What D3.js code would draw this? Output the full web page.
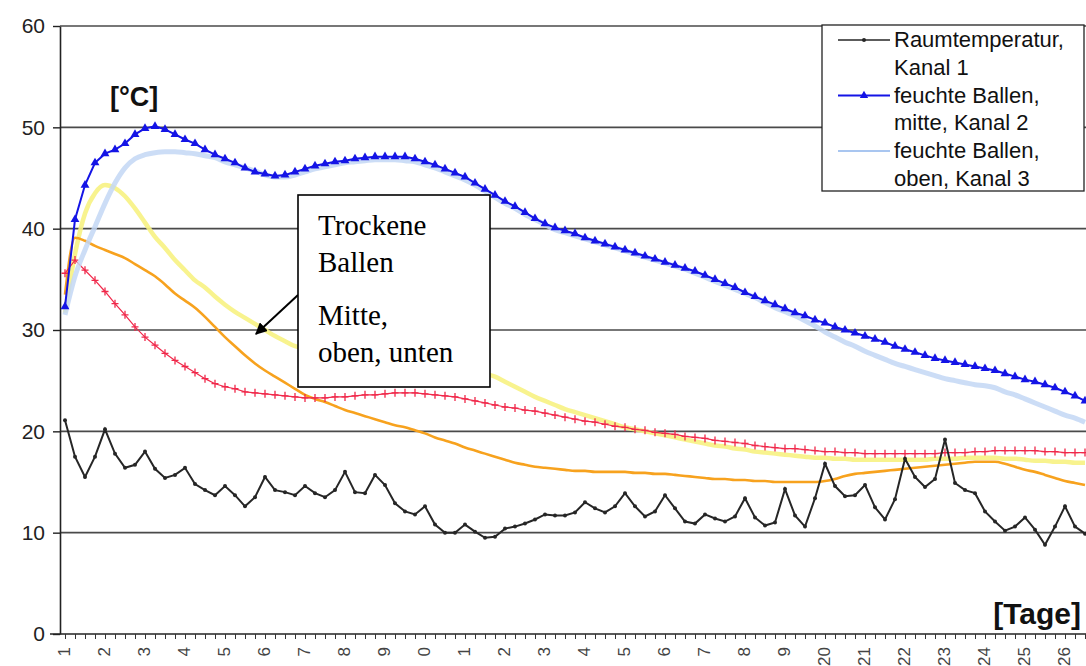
<!DOCTYPE html>
<html lang="de">
<head>
<meta charset="utf-8">
<title>Temperaturverlauf Ballen</title>
<script src="https://d3js.org/d3.v7.min.js"></script>
<style>
  body { margin: 0; background: #fff; }
  svg { display: block; }
</style>
</head>
<body>
<div id="chart"></div>
<script>
// Tick labels for days (as printed on the axis)
const dayLabels = ["1","2","3","4","5","6","7","8","9","0","1","2","3","4","5","6","7","8","9","20","21","22","23","24","25","26"];

// Raumtemperatur, Kanal 1 (4 readings per day)
const raum = [21.1,17.5,15.5,17.5,20.2,17.8,16.4,16.7,18.0,16.3,15.4,15.7,16.4,14.8,14.2,13.7,14.6,13.7,12.6,13.5,
  15.5,14.2,14.0,13.7,14.6,13.9,13.5,14.2,16.0,14.0,13.9,15.7,14.7,12.9,12.1,11.8,12.6,10.8,10.0,10.0,
  10.8,10.1,9.5,9.6,10.4,10.6,10.9,11.3,11.8,11.7,11.7,12.0,13.0,12.4,12.0,12.6,13.9,12.6,11.6,12.1,
  13.7,12.4,11.1,10.9,11.8,11.4,11.1,11.6,13.4,11.5,10.7,11.0,14.3,11.7,10.6,13.4,16.8,14.6,13.6,13.7,
  14.7,12.5,11.3,13.3,17.3,15.5,14.5,15.3,19.2,14.9,14.2,13.9,12.1,11.1,10.2,10.6,11.5,10.3,8.8,10.6,
  12.6,10.6,9.9];

// feuchte Ballen, mitte, Kanal 2
const mitte = [32.3,40.9,44.3,46.5,47.4,47.8,48.4,49.3,49.9,50.1,49.8,49.3,48.8,48.4,47.8,47.3,46.9,46.5,46.0,45.6,
  45.4,45.2,45.3,45.6,45.9,46.2,46.4,46.6,46.7,46.9,47.0,47.1,47.1,47.1,47.1,46.9,46.6,46.3,45.9,45.5,
  45.1,44.5,43.9,43.3,42.7,42.2,41.6,41.0,40.5,40.1,39.8,39.5,39.1,38.8,38.5,38.2,37.9,37.6,37.3,37.0,
  36.7,36.4,36.1,35.8,35.4,35.0,34.6,34.2,33.7,33.3,32.9,32.5,32.1,31.7,31.4,31.0,30.7,30.3,30.0,29.7,
  29.4,29.1,28.8,28.4,28.1,27.8,27.5,27.2,27.0,26.8,26.6,26.4,26.2,26.0,25.7,25.4,25.1,24.9,24.6,24.3,
  23.9,23.5,23.0];

// feuchte Ballen, oben, Kanal 3
const oben = [31.5,35.3,37.9,40.2,42.5,44.5,46.0,46.9,47.3,47.5,47.6,47.6,47.5,47.4,47.2,47.0,46.6,46.3,46.0,45.7,
  45.3,45.1,45.1,45.3,45.6,45.9,46.1,46.3,46.5,46.6,46.7,46.8,46.8,46.8,46.7,46.6,46.3,46.0,45.6,45.2,
  44.8,44.3,43.7,43.1,42.5,42.0,41.4,40.9,40.4,39.9,39.6,39.3,39.0,38.7,38.4,38.1,37.8,37.5,37.2,36.9,
  36.6,36.3,36.0,35.6,35.2,34.8,34.4,34.0,33.6,33.2,32.7,32.2,31.8,31.4,30.9,30.4,29.8,29.3,28.8,28.4,
  27.9,27.5,27.1,26.7,26.4,26.1,25.8,25.5,25.2,25.0,24.8,24.6,24.5,24.3,23.9,23.6,23.2,22.8,22.4,22.0,
  21.6,21.3,20.9];

// trockene Ballen (gelb, orange, rot)
const trockenGelb = [31.7,37.5,41.5,43.5,44.3,44.0,43.2,42.0,40.6,39.2,38.1,36.9,35.9,34.9,34.2,33.3,32.5,31.8,31.2,30.6,
  30.0,29.4,28.9,28.4,28.2,27.9,27.7,27.5,27.3,27.2,27.1,27.0,26.9,26.9,26.8,26.7,26.6,26.5,26.4,26.3,
  26.1,25.9,25.7,25.4,24.9,24.4,23.9,23.4,23.0,22.6,22.2,21.9,21.6,21.3,21.0,20.7,20.4,20.2,20.0,19.8,
  19.6,19.4,19.2,19.0,18.8,18.6,18.5,18.3,18.2,18.0,17.9,17.8,17.7,17.6,17.5,17.4,17.4,17.3,17.3,17.2,
  17.2,17.2,17.2,17.2,17.2,17.2,17.2,17.3,17.3,17.3,17.4,17.4,17.4,17.4,17.3,17.3,17.2,17.1,17.1,17.0,
  17.0,16.9,16.9];

const trockenOrange = [33.5,39.1,38.8,38.3,37.9,37.5,37.1,36.5,35.9,35.3,34.5,33.6,32.9,32.2,31.3,30.3,29.3,28.4,27.5,26.7,
  26.0,25.4,24.8,24.2,23.6,23.2,22.9,22.5,22.1,21.8,21.5,21.2,20.9,20.6,20.4,20.1,19.8,19.4,19.1,18.8,
  18.4,18.1,17.8,17.5,17.2,16.9,16.7,16.5,16.4,16.3,16.2,16.1,16.1,16.0,16.0,16.0,16.0,15.9,15.9,15.8,
  15.8,15.7,15.6,15.5,15.4,15.3,15.3,15.2,15.2,15.1,15.1,15.0,15.0,15.0,15.0,15.0,15.1,15.3,15.6,15.8,
  15.9,16.0,16.1,16.2,16.3,16.4,16.5,16.6,16.7,16.8,16.9,17.0,17.0,17.0,16.8,16.5,16.2,16.0,15.7,15.4,
  15.1,14.9,14.7];

const trockenRot = [35.6,36.9,35.9,34.9,33.8,32.6,31.5,30.3,29.3,28.5,27.7,27.0,26.4,25.8,25.2,24.7,24.4,24.2,23.9,23.8,
  23.7,23.6,23.5,23.4,23.3,23.3,23.3,23.4,23.4,23.5,23.6,23.6,23.7,23.8,23.8,23.8,23.7,23.6,23.5,23.4,
  23.2,23.0,22.8,22.6,22.4,22.3,22.1,22.0,21.8,21.6,21.4,21.2,21.0,20.9,20.7,20.5,20.4,20.2,20.1,19.9,
  19.8,19.7,19.5,19.4,19.3,19.1,19.0,18.9,18.8,18.6,18.5,18.4,18.3,18.3,18.2,18.1,18.0,18.0,17.9,17.9,
  17.8,17.8,17.8,17.8,17.8,17.8,17.8,17.8,17.9,17.9,17.9,18.0,18.0,18.1,18.1,18.1,18.1,18.1,18.0,18.0,
  17.9,17.9,17.9];

const legendNames = [["Raumtemperatur,", "Kanal 1"], ["feuchte Ballen,", "mitte, Kanal 2"], ["feuchte Ballen,", "oben, Kanal 3"]];
const noteLines = ["Trockene", "Ballen", "Mitte,", "oben, unten"];

const width = 1086, height = 666;

const svg = d3.select("#chart").append("svg")
    .attr("width", width)
    .attr("height", height)
    .style("font-family", "Arial, 'Liberation Sans', sans-serif");

// samples: 4 per day, index 0 = day 1
const x = d3.scaleLinear().domain([0, 102]).range([65, 1085]);
const y = d3.scaleLinear().domain([0, 60]).range([634, 26]);

// gridlines
svg.append("g")
    .selectAll("line")
    .data(d3.range(10, 61, 10))
    .enter().append("line")
    .attr("x1", 60).attr("x2", width)
    .attr("y1", d => y(d)).attr("y2", d => y(d))
    .attr("stroke", "#4a4a4a")
    .attr("stroke-width", 1.6);

// y axis
const yAxis = svg.append("g")
    .attr("transform", "translate(60,0)")
    .call(d3.axisLeft(y).tickValues(d3.range(0, 61, 10)).tickSize(7).tickPadding(8).tickSizeOuter(0));
yAxis.select(".domain").attr("stroke", "#222").attr("stroke-width", 1.6);
yAxis.selectAll(".tick line").attr("stroke", "#222").attr("stroke-width", 1.4);
yAxis.selectAll(".tick text")
    .attr("font-size", 21)
    .attr("fill", "#222")
    .style("font-family", "Arial, 'Liberation Sans', sans-serif");

// x axis with a tick per sample
const xAxis = svg.append("g")
    .attr("transform", "translate(0,634)")
    .call(d3.axisBottom(x).tickValues(d3.range(0, 103)).tickSize(5).tickFormat("").tickSizeOuter(0));
xAxis.select(".domain").attr("stroke", "#222").attr("stroke-width", 1.6).attr("d", "M50,0H1086");
xAxis.selectAll(".tick line").attr("stroke", "#333").attr("stroke-width", 1);

svg.append("g")
    .selectAll("text")
    .data(dayLabels)
    .enter().append("text")
    .attr("transform", (d, i) => `translate(${x(i * 4) + 5},647) rotate(-90)`)
    .attr("text-anchor", "end")
    .attr("font-size", 17)
    .attr("fill", "#444")
    .text(d => d);

const line = d3.line().x((d, i) => x(i)).y(d => y(d));
const smooth = d3.line().x((d, i) => x(i)).y(d => y(d)).curve(d3.curveMonotoneX);

// dry bales
svg.append("path").datum(trockenGelb)
    .attr("fill", "none").attr("stroke", "#f7f282").attr("stroke-width", 4.5)
    .attr("stroke-opacity", 0.9).attr("d", smooth);
svg.append("path").datum(trockenOrange)
    .attr("fill", "none").attr("stroke", "#f7a21e").attr("stroke-width", 2.6).attr("d", smooth);

svg.append("path").datum(trockenRot)
    .attr("fill", "none").attr("stroke", "#f0284a").attr("stroke-width", 1.2).attr("d", line);
svg.append("g").selectAll("path")
    .data(trockenRot)
    .enter().append("path")
    .attr("d", (d, i) => `M${x(i) - 3.5},${y(d)}H${x(i) + 3.5}M${x(i)},${y(d) - 4}V${y(d) + 4}`)
    .attr("stroke", "#f0284a").attr("stroke-width", 1.3);

// moist bales
svg.append("path").datum(oben)
    .attr("fill", "none").attr("stroke", "#c3d7f4").attr("stroke-width", 5)
    .attr("stroke-opacity", 0.85).attr("d", smooth);

svg.append("path").datum(mitte)
    .attr("fill", "none").attr("stroke", "#1414e6").attr("stroke-width", 2).attr("d", line);
const tri = d3.symbol().type(d3.symbolTriangle).size(34);
svg.append("g").selectAll("path")
    .data(mitte)
    .enter().append("path")
    .attr("transform", (d, i) => `translate(${x(i)},${y(d)})`)
    .attr("d", tri)
    .attr("fill", "#1414e6");

// room temperature
svg.append("path").datum(raum)
    .attr("fill", "none").attr("stroke", "#262626").attr("stroke-width", 2).attr("d", line);
svg.append("g").selectAll("circle")
    .data(raum)
    .enter().append("circle")
    .attr("cx", (d, i) => x(i)).attr("cy", d => y(d)).attr("r", 2)
    .attr("fill", "#262626");

// unit labels
svg.append("text")
    .attr("x", 110).attr("y", 106)
    .attr("font-size", 27).attr("font-weight", "bold").attr("fill", "#111")
    .text("[°C]");
svg.append("text")
    .attr("x", 1081).attr("y", 624)
    .attr("text-anchor", "end")
    .attr("font-size", 30).attr("font-weight", "bold").attr("fill", "#111")
    .text("[Tage]");

// legend
const legend = svg.append("g");
legend.append("rect")
    .attr("x", 822).attr("y", 25).attr("width", 262).attr("height", 166)
    .attr("fill", "#fff").attr("stroke", "#222").attr("stroke-width", 1.3);

const legendStyles = [
  { color: "#262626", width: 1.5, marker: "dot" },
  { color: "#1414e6", width: 2, marker: "tri" },
  { color: "#a9c6f0", width: 2, marker: null }
];
legendNames.forEach((names, k) => {
  const top = 47 + k * 55.5;
  const st = legendStyles[k];
  legend.append("line")
      .attr("x1", 838).attr("x2", 890)
      .attr("y1", top - 7).attr("y2", top - 7)
      .attr("stroke", st.color).attr("stroke-width", st.width);
  if (st.marker === "dot") {
    legend.append("circle").attr("cx", 864).attr("cy", top - 7).attr("r", 2).attr("fill", st.color);
  } else if (st.marker === "tri") {
    legend.append("path").attr("transform", `translate(864,${top - 7})`)
        .attr("d", d3.symbol().type(d3.symbolTriangle).size(30)).attr("fill", st.color);
  }
  names.forEach((t, j) => {
    legend.append("text")
        .attr("x", 894).attr("y", top + j * 27.5)
        .attr("font-size", 22).attr("fill", "#111")
        .text(t);
  });
});

// annotation box with arrow
svg.append("defs").append("marker")
    .attr("id", "arrow")
    .attr("viewBox", "0 0 10 10")
    .attr("refX", 9).attr("refY", 5)
    .attr("markerWidth", 6).attr("markerHeight", 6)
    .attr("orient", "auto")
    .append("path").attr("d", "M0,0L10,5L0,10Z").attr("fill", "#000");

svg.append("line")
    .attr("x1", 298).attr("y1", 295).attr("x2", 256).attr("y2", 334)
    .attr("stroke", "#000").attr("stroke-width", 2)
    .attr("marker-end", "url(#arrow)");

svg.append("rect")
    .attr("x", 298).attr("y", 195).attr("width", 192).attr("height", 192)
    .attr("fill", "#fff").attr("stroke", "#000").attr("stroke-width", 1.6);

const noteY = [235, 272, 325, 362];
svg.append("g").selectAll("text")
    .data(noteLines)
    .enter().append("text")
    .attr("x", 318).attr("y", (d, i) => noteY[i])
    .attr("font-size", 29)
    .attr("fill", "#000")
    .style("font-family", "'Times New Roman', 'Liberation Serif', serif")
    .text(d => d);
</script>
</body>
</html>
